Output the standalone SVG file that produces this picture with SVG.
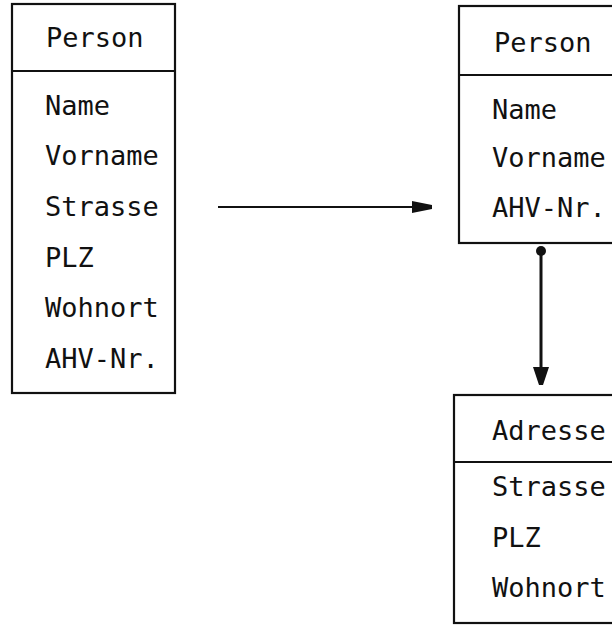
<svg xmlns="http://www.w3.org/2000/svg" width="612" height="633" viewBox="0 0 612 633">
<style>
.box{fill:none;stroke:#111;stroke-width:2.2}
.div{stroke:#111;stroke-width:2}
.t{font-family:"DejaVu Sans Mono","Liberation Mono",monospace;font-size:27px;fill:#111}
.con{stroke:#111;fill:none}
</style>
<defs>
<marker id="ah" markerUnits="userSpaceOnUse" markerWidth="22" markerHeight="16" refX="20" refY="8" orient="auto">
<path d="M0,2 L20,6 L20,10 L0,14 Z" fill="#111"/>
</marker>
<marker id="av" markerUnits="userSpaceOnUse" markerWidth="20" markerHeight="18" refX="18" refY="9" orient="auto">
<path d="M0,1 L18,7 L18,11 L0,17 Z" fill="#111"/>
</marker>
</defs>
<g id="person-old">
<rect class="box" x="12" y="4" width="163" height="389"/>
<line class="div" x1="12" y1="71" x2="175" y2="71"/>
<text class="t" x="46" y="47">Person</text>
<text class="t" x="45" y="115">Name</text>
<text class="t" x="45" y="165">Vorname</text>
<text class="t" x="45" y="216">Strasse</text>
<text class="t" x="45" y="267">PLZ</text>
<text class="t" x="45" y="317">Wohnort</text>
<text class="t" x="45" y="368">AHV-Nr.</text>
</g>
<g id="person-new">
<rect class="box" x="459" y="6" width="170" height="237"/>
<line class="div" x1="459" y1="75" x2="612" y2="75"/>
<text class="t" x="494" y="52">Person</text>
<text class="t" x="492" y="119">Name</text>
<text class="t" x="492" y="167">Vorname</text>
<text class="t" x="492" y="217">AHV-Nr.</text>
</g>
<g id="adresse">
<rect class="box" x="454" y="395" width="175" height="228"/>
<line class="div" x1="454" y1="462" x2="612" y2="462"/>
<text class="t" x="492" y="440">Adresse</text>
<text class="t" x="492" y="496">Strasse</text>
<text class="t" x="492" y="547">PLZ</text>
<text class="t" x="492" y="597">Wohnort</text>
</g>
<g id="connectors">
<line class="con" x1="218" y1="207" x2="432" y2="207" stroke-width="2" marker-end="url(#ah)"/>
<circle cx="541" cy="251" r="5" fill="#111"/>
<line class="con" x1="541" y1="251" x2="541" y2="385" stroke-width="3" marker-end="url(#av)"/>
</g>
</svg>
